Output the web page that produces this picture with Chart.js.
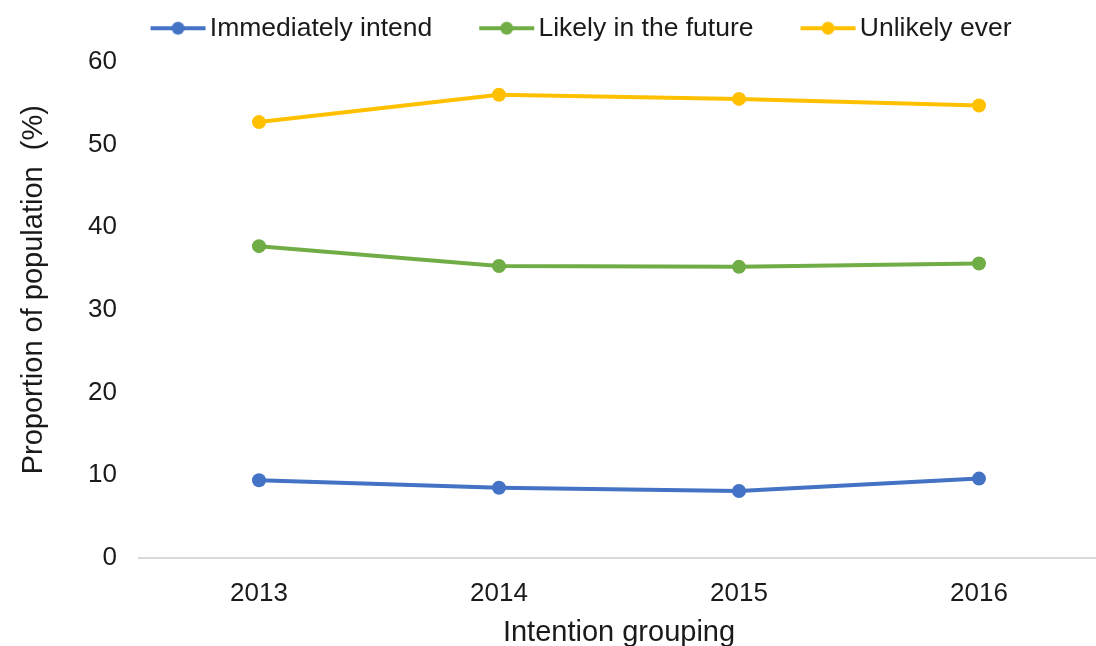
<!DOCTYPE html>
<html>
<head>
<meta charset="utf-8">
<script src="https://cdn.jsdelivr.net/npm/chart.js@4/dist/chart.umd.min.js"></script>
<style>
  html, body { margin: 0; padding: 0; background: #fff; overflow: hidden; }
  #wrap { width: 1106px; height: 646px; }
</style>
</head>
<body>
<div id="wrap"><canvas id="c"></canvas></div>
<script>
var years = ['2013', '2014', '2015', '2016'];
var immediately = [9.4, 8.5, 8.1, 9.6];
var likely = [37.7, 35.3, 35.2, 35.6];
var unlikely = [52.7, 56.0, 55.5, 54.7];
var seriesNames = ['Immediately intend', 'Likely in the future', 'Unlikely ever'];
var seriesColors = ['#4472C4', '#70AD47', '#FFC000'];

var FONT = '"Liberation Sans", Arial, sans-serif';
var textColor = '#1a1a1a';

// legend marker: short line with a dot, drawn into a small canvas
function legendMarker(color) {
  var c = document.createElement('canvas');
  c.width = 84;
  c.height = 16;
  var g = c.getContext('2d');
  g.strokeStyle = color;
  g.lineWidth = 4;
  g.beginPath();
  g.moveTo(28, 8);
  g.lineTo(83, 8);
  g.stroke();
  g.fillStyle = color;
  g.beginPath();
  g.arc(55.5, 8, 6.5, 0, Math.PI * 2);
  g.fill();
  return c;
}

function dataset(i, values) {
  return {
    label: seriesNames[i],
    data: values,
    borderColor: seriesColors[i],
    backgroundColor: seriesColors[i],
    borderWidth: 4,
    pointRadius: 7,
    pointHoverRadius: 7,
    pointBorderWidth: 0,
    tension: 0
  };
}

new Chart(document.getElementById('c'), {
  type: 'line',
  data: {
    labels: years,
    datasets: [dataset(0, immediately), dataset(1, likely), dataset(2, unlikely)]
  },
  options: {
    responsive: true,
    maintainAspectRatio: false,
    animation: false,
    layout: { padding: { left: 38, right: 0, top: -14, bottom: 0 } },
    plugins: {
      tooltip: { enabled: false },
      // empty subtitle used only as a spacer between legend and plot
      subtitle: {
        display: true,
        text: '',
        weight: 500,
        font: { size: 1 },
        padding: { top: 0, bottom: 9 }
      },
      legend: {
        position: 'top',
        labels: {
          usePointStyle: true,
          pointStyleWidth: 64,
          padding: 29,
          color: textColor,
          font: { family: FONT, size: 26.5 },
          generateLabels: function (chart) {
            return chart.data.datasets.map(function (ds, i) {
              return {
                text: ds.label,
                pointStyle: legendMarker(seriesColors[i]),
                fillStyle: seriesColors[i],
                strokeStyle: seriesColors[i],
                lineWidth: 0,
                fontColor: textColor,
                datasetIndex: i
              };
            });
          }
        }
      }
    },
    scales: {
      x: {
        offset: true,
        grid: { display: false },
        border: { display: true, color: '#d9d9d9', width: 2 },
        ticks: { color: textColor, font: { family: FONT, size: 26 }, padding: 12 },
        title: {
          display: true,
          text: 'Intention grouping',
          color: textColor,
          font: { family: FONT, size: 29 },
          padding: { top: 6, bottom: -4 }
        },
        afterFit: function (s) { s.height = 88; }
      },
      y: {
        min: 0,
        max: 60,
        grid: { display: false },
        border: { display: false },
        ticks: { stepSize: 10, color: textColor, font: { family: FONT, size: 26 }, padding: 14 },
        title: {
          display: true,
          text: '     Proportion of population  (%)',
          color: textColor,
          font: { family: FONT, size: 29 },
          padding: { top: -21, bottom: 0 }
        },
        afterFit: function (s) { s.width = 101; }
      }
    }
  }
});
</script>
</body>
</html>
